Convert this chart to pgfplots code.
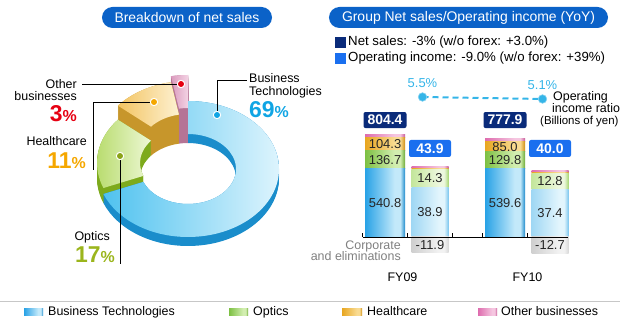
\documentclass[border=0pt]{standalone}
\usepackage{fontspec}
\setmainfont{Liberation Sans}
\usepackage{pgfplots}
\pgfplotsset{compat=1.18}

\definecolor{titleblue}{HTML}{0B62C8}
\definecolor{navybox}{HTML}{0A2B7A}
\definecolor{opbox}{HTML}{1A6FEF}
\definecolor{ratio}{HTML}{35B5E8}
\definecolor{btdark}{HTML}{1A8DCB}
\definecolor{btmid}{HTML}{4FC2EF}
\definecolor{btlight}{HTML}{DDF4FD}
\definecolor{optdark}{HTML}{7DAA1C}
\definecolor{optmid}{HTML}{B3D964}
\definecolor{optlight}{HTML}{EEF8D6}
\definecolor{hcdark}{HTML}{C7962B}
\definecolor{hcmid}{HTML}{F3C461}
\definecolor{hclight}{HTML}{FDF1D2}
\definecolor{othdark}{HTML}{B57495}
\definecolor{othmid}{HTML}{DB9ABD}
\definecolor{othlight}{HTML}{F3D3E4}
\definecolor{btpct}{HTML}{10A5E4}
\definecolor{othpct}{HTML}{E60012}
\definecolor{hcpct}{HTML}{F5A700}
\definecolor{optpct}{HTML}{9BB51C}
\definecolor{graytxt}{HTML}{808080}
% bar colours
\definecolor{nbtA}{HTML}{28A2E6}\definecolor{nbtB}{HTML}{C3E9FA}\definecolor{nbtC}{HTML}{1E8ACB}
\definecolor{noptA}{HTML}{7DC043}\definecolor{noptB}{HTML}{D2EEB0}\definecolor{noptC}{HTML}{6DAA35}
\definecolor{nhcA}{HTML}{E8A620}\definecolor{nhcB}{HTML}{F9DB92}\definecolor{nhcC}{HTML}{D08E12}
\definecolor{nothA}{HTML}{DE6CAE}\definecolor{nothB}{HTML}{F5C6E0}\definecolor{nothC}{HTML}{C85C98}
\definecolor{obtA}{HTML}{9FD7F4}\definecolor{obtB}{HTML}{E2F5FD}\definecolor{obtC}{HTML}{7CC6EE}
\definecolor{ooptA}{HTML}{C4E69C}\definecolor{ooptB}{HTML}{EDF8DE}\definecolor{ooptC}{HTML}{A7D674}
\definecolor{corA}{HTML}{CFCFCF}\definecolor{corB}{HTML}{F2F2F2}\definecolor{corC}{HTML}{D8D8D8}

\newcommand\mkshade[4]{\pgfdeclarehorizontalshading{#1}{100bp}{color(0bp)=(#2); color(25bp)=(#2); color(62bp)=(#3); color(69bp)=(#3); color(75bp)=(#4); color(100bp)=(#4)}}
\mkshade{netbt}{nbtA}{nbtB}{nbtC}
\mkshade{netopt}{noptA}{noptB}{noptC}
\mkshade{nethc}{nhcA}{nhcB}{nhcC}
\mkshade{netoth}{nothA}{nothB}{nothC}
\mkshade{opbt}{obtA}{obtB}{obtC}
\mkshade{opopt}{ooptA}{ooptB}{ooptC}
\mkshade{cor}{corA}{corB}{corC}

\newcommand\fs[1]{\fontsize{#1}{#1}\selectfont}

\tikzset{
  vlblN/.style={font=\fs{13}, text=black!85, inner sep=0pt, xshift=-22.5bp},
  vlblO/.style={font=\fs{13}, text=black!85, inner sep=0pt, xshift=22.5bp},
  lbl/.style={inner sep=0pt, font=\fs{12.5}, text height=9bp, text depth=2.5bp}}

\pgfplotsset{
  netgeom/.style={at={(362.5bp,88bp)}, anchor=south west, scale only axis,
    width=205.5bp, height=111.76bp, xmin=-0.375, xmax=1.3375, ymin=0, ymax=880, clip=false},
  opgeom/.style={at={(362.5bp,62.6bp)}, anchor=south west, scale only axis,
    width=205.5bp, height=137.16bp, xmin=-0.375, xmax=1.3375, ymin=-20, ymax=88, clip=false},
  netbar/.style={draw=none, shade, bar shift=-22.5bp},
  opbar/.style={draw=none, shade, bar shift=22.5bp}}

% donut data (percent of net sales)
\def\pBT{69}\def\pOpt{17}\def\pHC{11}\def\pOth{3}
\pgfmathsetmacro\aA{90}
\pgfmathsetmacro\aB{\aA-3.6*\pBT}
\pgfmathsetmacro\aC{\aB-3.6*\pOpt}
\pgfmathsetmacro\aD{\aC-3.6*\pHC}
\pgfmathsetmacro\aE{\aD-3.6*\pOth}

\newcommand\ring[2]{(#1:91 and 68) arc[start angle=#1, end angle=#2, x radius=91, y radius=68] -- (#2:48 and 35) arc[start angle=#2, end angle=#1, x radius=48, y radius=35] -- cycle}
\newcommand\slice[6]{%
  \foreach \hh in {-9,...,#3}{\begin{scope}[yshift=\hh bp]\fill[#4] \ring{#1}{#2};\end{scope}}%
  \begin{scope}[yshift=#3 bp]\shade[left color=#5, right color=#6] \ring{#1}{#2};\end{scope}}

\begin{document}
\begin{tikzpicture}
\useasboundingbox (0,0) rectangle (620bp,325bp);

% ---------------- donut ----------------
\begin{scope}[shift={(188bp,156bp)}, x=1bp, y=1bp]
  \slice{\aD}{\aE}{26}{othdark}{othmid}{othlight}
  \slice{\aC}{\aD}{20}{hcdark}{hcmid}{hclight}
  \slice{\aB}{\aC}{6}{optdark}{optmid}{optlight}
  \slice{\aA}{\aB}{0}{btdark}{btmid}{btlight}
\end{scope}

% ---------------- annotations (y downwards, px units) ----------------
\begin{scope}[shift={(0,325bp)}, x=1bp, y=-1bp]
  \node[fill=titleblue, rounded corners=10.5bp, minimum width=170bp, minimum height=21bp, inner sep=0pt, text=white, font=\fs{14}] at (187,17.5) {Breakdown of net sales};
  \node[fill=titleblue, rounded corners=10.5bp, minimum width=279bp, minimum height=21bp, inner sep=0pt, text=white, font=\fs{14}] at (468.5,17.5) {Group Net sales/Operating income (YoY)};
  \fill[navybox] (335,37) rectangle (346,48);
  \node[lbl, font=\fs{13.3}, anchor=west] at (348,42.5) {Net sales: -3\% (w/o forex: +3.0\%)};
  \fill[opbox] (335,53) rectangle (346,64);
  \node[lbl, font=\fs{13.3}, anchor=west] at (348,58.5) {Operating income: -9.0\% (w/o forex: +39\%)};
  \draw[line width=0.7bp] (217,115) -- (217,80) -- (247,80);
  \draw[line width=0.7bp] (181,84) -- (82,84);
  \draw[line width=0.7bp] (154,102) -- (93,102) -- (93,170);
  \draw[line width=0.7bp] (120,156) -- (120,264);
  \fill[white] (217,115) circle (4.2); \fill[btpct] (217,115) circle (3);
  \fill[white] (181,84) circle (4.2); \fill[othpct] (181,84) circle (3);
  \fill[white] (154,102) circle (4.2); \fill[hcpct] (154,102) circle (3);
  \fill[white] (120,156) circle (4.2); \fill[optpct!90!black] (120,156) circle (3);
  \node[lbl, anchor=west] at (249,79) {Business};
  \node[lbl, anchor=west] at (249,92) {Technologies};
  \node[inner sep=0pt, anchor=base west, text=btpct] at (249,118) {{\fs{23}\bfseries 69}{\fs{16}\bfseries\%}};
  \node[lbl, anchor=east] at (77,85) {Other};
  \node[lbl, anchor=east] at (77,97) {businesses};
  \node[inner sep=0pt, anchor=base east, text=othpct] at (77,122) {{\fs{23}\bfseries 3}{\fs{16}\bfseries\%}};
  \node[lbl, anchor=east] at (87,142) {Healthcare};
  \node[inner sep=0pt, anchor=base east, text=hcpct] at (86,169) {{\fs{23}\bfseries 11}{\fs{16}\bfseries\%}};
  \node[lbl, anchor=east] at (110,237) {Optics};
  \node[inner sep=0pt, anchor=base east, text=optpct] at (115,263) {{\fs{23}\bfseries 17}{\fs{16}\bfseries\%}};
  \node[lbl, anchor=west] at (553,97) {Operating};
  \node[lbl, anchor=west] at (552,109) {income ratio};
  \node[lbl, font=\fs{11.5}, anchor=west] at (540,121) {(Billions of yen)};
  \node[lbl, anchor=east, text=graytxt] at (401,246) {Corporate};
  \node[lbl, anchor=east, text=graytxt] at (401,257) {and eliminations};
  \draw[line width=1bp, black!22] (0,302) -- (620,302);
  \shade[shading=netbt] (24,309) rectangle (43,316);
  \node[lbl, anchor=west] at (48,312.5) {Business Technologies};
  \shade[shading=netopt] (229,309) rectangle (248,316);
  \node[lbl, anchor=west] at (253,312.5) {Optics};
  \shade[shading=nethc] (342,309) rectangle (362,316);
  \node[lbl, anchor=west] at (367,312.5) {Healthcare};
  \shade[shading=netoth] (478,309) rectangle (497,316);
  \node[lbl, anchor=west] at (501,312.5) {Other businesses};
\end{scope}

% ---------------- net sales FY09 / FY10 (Billions of yen) ----------------
\begin{axis}[netgeom, ybar stacked, bar width=40bp, hide axis]
\addplot[netbar, shading=netbt]  coordinates {(0,540.8)};
\addplot[netbar, shading=netopt] coordinates {(0,136.7)};
\addplot[netbar, shading=nethc]  coordinates {(0,104.3)};
\addplot[netbar, shading=netoth] coordinates {(0,22.6)};
\end{axis}
\begin{axis}[netgeom, ybar stacked, bar width=40bp, hide axis]
\addplot[netbar, shading=netbt]  coordinates {(1,539.6)};
\addplot[netbar, shading=netopt] coordinates {(1,129.8)};
\addplot[netbar, shading=nethc]  coordinates {(1,85.0)};
\addplot[netbar, shading=netoth] coordinates {(1,23.5)};
\end{axis}

% ---------------- operating income FY09 / FY10 ----------------
\begin{axis}[opgeom, ybar stacked, bar width=37bp, hide axis]
\addplot[opbar, shading=opbt]   coordinates {(0,38.9)};
\addplot[opbar, shading=opopt]  coordinates {(0,14.3)};
\addplot[opbar, shading=nethc]  coordinates {(0,1.0)};
\addplot[opbar, shading=netoth] coordinates {(0,1.6)};
\end{axis}
\begin{axis}[opgeom, ybar stacked, bar width=37bp, hide axis]
\addplot[opbar, shading=opbt]   coordinates {(1,37.4)};
\addplot[opbar, shading=opopt]  coordinates {(1,12.8)};
\addplot[opbar, shading=nethc]  coordinates {(1,0.6)};
\addplot[opbar, shading=netoth] coordinates {(1,1.9)};
\end{axis}

% ---------------- corporate and eliminations + operating labels ----------------
\begin{axis}[opgeom, ybar, bar width=37bp, hide axis]
\addplot[opbar, shading=cor] coordinates {(0,-11.9)};
\addplot[opbar, shading=cor] coordinates {(1,-12.7)};
\end{axis}
\begin{axis}[opgeom, hide axis]
\addplot[draw=none] coordinates {(0,0)};
\node[vlblO] at (axis cs:0,19.45) {38.9};
\node[vlblO] at (axis cs:0,46.05) {14.3};
\node[vlblO] at (axis cs:1,18.7) {37.4};
\node[vlblO] at (axis cs:1,43.8) {12.8};
\node[vlblO] at (axis cs:0,-6.5) {-11.9};
\node[vlblO] at (axis cs:1,-6.5) {-12.7};
\node[fill=opbox, text=white, font=\fs{14}\bfseries, rounded corners=2bp, minimum width=42bp, minimum height=17bp, inner sep=0pt, xshift=22.5bp] at (axis cs:0,69.7) {43.9};
\node[fill=opbox, text=white, font=\fs{14}\bfseries, rounded corners=2bp, minimum width=42bp, minimum height=17bp, inner sep=0pt, xshift=22.5bp] at (axis cs:1,69.7) {40.0};
\end{axis}

% ---------------- baseline, ticks, FY labels, net labels ----------------
\begin{axis}[netgeom, hide y axis, axis x line=none, xtick=\empty, ytick=\empty]
\addplot[black, line width=1bp, mark=none] coordinates {(-0.375,0) (1.3375,0)};
\addplot[black, line width=1bp, ycomb, mark=none] coordinates {(-0.375,33) (0,33) (0.375,33) (0.625,33) (1,33)};
\node[font=\fs{12.5}, inner sep=0pt, yshift=-40bp, xshift=-5bp] at (axis cs:0,0) {FY09};
\node[font=\fs{12.5}, inner sep=0pt, yshift=-40bp] at (axis cs:1,0) {FY10};
\node[vlblN] at (axis cs:0,270.4) {540.8};
\node[vlblN] at (axis cs:0,609.15) {136.7};
\node[vlblN] at (axis cs:0,729.65) {104.3};
\node[vlblN] at (axis cs:1,269.8) {539.6};
\node[vlblN] at (axis cs:1,604.5) {129.8};
\node[vlblN] at (axis cs:1,711.9) {85.0};
\node[fill=navybox, text=white, font=\fs{14}\bfseries, rounded corners=2bp, minimum width=43bp, minimum height=16bp, inner sep=0pt, xshift=-22.5bp] at (axis cs:0,921) {804.4};
\node[fill=navybox, text=white, font=\fs{14}\bfseries, rounded corners=2bp, minimum width=43bp, minimum height=16bp, inner sep=0pt, xshift=-22.5bp] at (axis cs:1,921) {777.9};
\end{axis}

% ---------------- operating income ratio ----------------
\begin{axis}[at={(377.5bp,200.5bp)}, anchor=south west, scale only axis,
  width=205.5bp, height=30bp, xmin=-0.375, xmax=1.3375, ymin=0, ymax=6,
  clip=false, hide axis]
\addplot[ratio, line width=2bp, dash pattern=on 6bp off 4bp, mark=*, mark size=4.3bp,
  mark options={solid, fill=ratio, draw=ratio!60!white, line width=0.6bp},
  nodes near coords, point meta=explicit symbolic,
  every node near coord/.append style={font=\fs{13}, text=ratio, anchor=south, inner sep=0pt, yshift=9bp}]
  coordinates {(0,5.5) [5.5\%] (1,5.1) [5.1\%]};
\end{axis}
\end{tikzpicture}
\end{document}
